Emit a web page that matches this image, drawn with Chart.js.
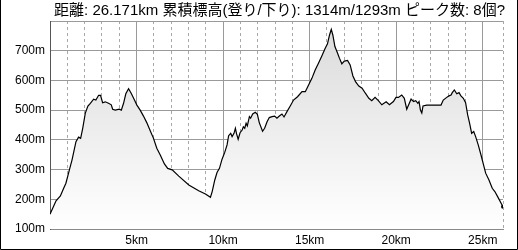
<!DOCTYPE html>
<html>
<head>
<meta charset="utf-8">
<script src="https://cdn.jsdelivr.net/npm/chart.js@4"></script>
<style>
  html, body { margin: 0; padding: 0; background: #fff; }
  canvas { display: block; }
</style>
</head>
<body>
<canvas id="elevation" width="518" height="250"></canvas>
<script>
const titleText = '距離: 26.171km 累積標高(登り/下り): 1314m/1293m ピーク数: 8個?';

// distance along the track (km) and elevation (m)
const distKm = [
  0, 0.35, 0.6, 0.79, 0.92, 1.12, 1.27, 1.5, 1.65, 1.77, 1.89, 2.04, 2.19, 2.33, 2.52, 2.65,
  2.81, 2.92, 3.04, 3.19, 3.38, 3.54, 3.62, 3.77, 4.0, 4.12, 4.25, 4.38, 4.54, 4.69, 4.88,
  5.02, 5.21, 5.4, 5.59, 5.79, 5.98, 6.17, 6.37, 6.61, 6.8, 7.06, 7.44, 8.02, 8.59, 8.98,
  9.27, 9.37, 9.52, 9.65, 9.79, 9.94, 10.09, 10.23, 10.32, 10.44, 10.52, 10.63, 10.71, 10.78,
  10.87, 10.98, 11.1, 11.17, 11.25, 11.33, 11.4, 11.52, 11.59, 11.71, 11.86, 11.98, 12.09,
  12.28, 12.4, 12.54, 12.67, 12.83, 12.98, 13.11, 13.25, 13.4, 13.52, 13.69, 13.88, 14.07,
  14.3, 14.56, 14.75, 14.94, 15.13, 15.32, 15.51, 15.71, 15.9, 16.03, 16.15, 16.25, 16.34,
  16.46, 16.61, 16.72, 16.86, 17.0, 17.19, 17.34, 17.5, 17.65, 17.84, 18.03, 18.22, 18.42,
  18.59, 18.78, 18.97, 19.17, 19.42, 19.61, 19.84, 19.99, 20.13, 20.32, 20.47, 20.61, 20.74,
  20.86, 21.0, 21.13, 21.25, 21.32, 21.4, 21.48, 21.55, 21.76, 22.24, 22.59, 22.72, 22.92,
  23.05, 23.17, 23.24, 23.36, 23.5, 23.63, 23.74, 23.88, 24.01, 24.13, 24.24, 24.36, 24.48,
  24.59, 24.74, 24.9, 25.05, 25.17, 25.36, 25.55, 25.7, 25.86, 26.171
];
const elevM = [
  150, 195, 211, 237, 254, 299, 332, 394, 409, 405, 439, 490, 514, 523, 537, 534,
  550, 550, 525, 528, 523, 518, 503, 500, 503, 500, 523, 555, 572, 557, 534,
  517, 500, 480, 458, 431, 405, 372, 349, 319, 304, 299, 278, 248, 229, 218,
  207, 226, 265, 290, 304, 335, 357, 383, 414, 422, 411, 422, 439, 420,
  402, 424, 433, 444, 439, 456, 447, 478, 473, 487, 493, 486, 458,
  429, 439, 461, 475, 478, 480, 473, 480, 487, 477, 495, 514, 534,
  545, 562, 562, 585, 607, 635, 658, 683, 708, 723, 753, 772, 753,
  714, 692, 675, 656, 665, 667, 652, 615, 596, 581, 574, 557, 540,
  532, 543, 532, 518, 528, 518, 529, 543, 543, 551, 540, 503, 521,
  537, 529, 532, 523, 529, 500, 490, 514, 517, 517, 517, 534, 543,
  548, 551, 559, 568, 555, 559, 548, 540, 525, 484, 456, 422, 428,
  411, 383, 349, 315, 288, 265, 237, 226, 209, 175
];

const xMin = 0;
const xMax = 26.171;
const yMin = 100;
const yMax = 800;

const fontFamily = '"Liberation Sans", Arial, "Noto Sans CJK JP", sans-serif';

const isMajor = v => v > 0 && Math.abs(v / 5 - Math.round(v / 5)) < 1e-6;

const headerTitle = {
  id: 'headerTitle',
  afterDraw(chart) {
    const ctx = chart.ctx;
    ctx.save();
    ctx.font = '15px ' + fontFamily;
    ctx.fillStyle = '#000';
    ctx.textAlign = 'right';
    ctx.textBaseline = 'middle';
    ctx.fillText(titleText, 505, 11);
    ctx.restore();
  }
};

// black frame on left, right and bottom edges of the picture
const frame = {
  id: 'frame',
  afterDraw(chart) {
    const ctx = chart.ctx;
    const w = chart.width, h = chart.height;
    ctx.save();
    ctx.strokeStyle = '#000';
    ctx.lineWidth = 1;
    ctx.beginPath();
    ctx.moveTo(0.5, 0);
    ctx.lineTo(0.5, h - 0.5);
    ctx.lineTo(w - 0.5, h - 0.5);
    ctx.lineTo(w - 0.5, 0);
    ctx.stroke();
    ctx.restore();
  }
};

const points = distKm.map((d, i) => ({ x: d, y: elevM[i] }));

new Chart(document.getElementById('elevation'), {
  type: 'line',
  data: {
    datasets: [{
      data: points,
      borderColor: '#000',
      borderWidth: 1.2,
      tension: 0,
      fill: 'start',
      backgroundColor: (c) => {
        const area = c.chart.chartArea;
        if (!area) return '#eee';
        const g = c.chart.ctx.createLinearGradient(0, area.top, 0, area.bottom);
        g.addColorStop(0, '#dadada');
        g.addColorStop(1, '#ffffff');
        return g;
      },
      pointRadius: c => c.dataIndex === points.length - 1 ? 2 : 0,
      pointBackgroundColor: '#000',
      pointBorderWidth: 0
    }]
  },
  options: {
    responsive: false,
    animation: false,
    devicePixelRatio: 1,
    layout: { padding: { left: 0, right: 15, top: 21, bottom: 0 } },
    plugins: {
      legend: { display: false },
      tooltip: { enabled: false }
    },
    scales: {
      x: {
        type: 'linear',
        min: xMin,
        max: xMax,
        afterFit: s => { s.height = 21; },
        ticks: {
          stepSize: 1,
          autoSkip: false,
          maxRotation: 0,
          padding: 4,
          color: '#000',
          font: { family: fontFamily, size: 12 },
          callback: v => isMajor(v) ? v + 'km' : ''
        },
        grid: {
          drawTicks: false,
          lineWidth: 1,
          color: c => (c.tick && isMajor(c.tick.value)) ? '#9a9a9a' : '#a8a8a8'
        },
        border: {
          color: '#8a8a8a',
          dash: c => (c.tick && !isMajor(c.tick.value)) ? [3, 3] : []
        }
      },
      y: {
        min: yMin,
        max: yMax,
        afterFit: s => { s.width = 50; },
        ticks: {
          stepSize: 100,
          padding: 5,
          color: '#000',
          font: { family: fontFamily, size: 12 },
          callback: v => v < yMax ? v + 'm' : ''
        },
        grid: {
          drawTicks: false,
          lineWidth: 1,
          color: '#9a9a9a'
        },
        border: { color: '#555' }
      }
    }
  },
  plugins: [headerTitle, frame]
});
</script>
</body>
</html>
